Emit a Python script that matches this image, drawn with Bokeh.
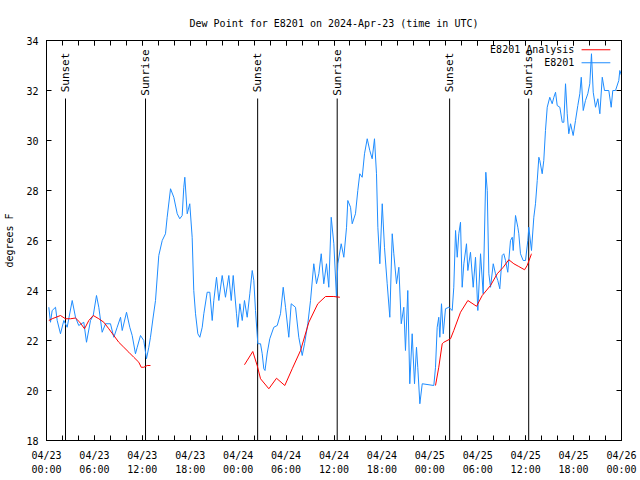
from math import pi
from bokeh.plotting import figure
from bokeh.models import FixedTicker, LinearAxis, Range1d
from bokeh.core.properties import value
from bokeh.embed import file_html
from bokeh.resources import INLINE

FONT = "DejaVu Sans Mono"
BLUE = "#1E8CFF"
RED = "#FF0000"

TITLE = "Dew Point for E8201 on 2024-Apr-23 (time in UTC)"
Y_LABEL = "degrees F"

# hours since 2024-04-23 00:00 UTC
X_TICKS = [0, 6, 12, 18, 24, 30, 36, 42, 48, 54, 60, 66, 72]
X_TICK_LABELS = ["04/23\n00:00", "04/23\n06:00", "04/23\n12:00", "04/23\n18:00",
                 "04/24\n00:00", "04/24\n06:00", "04/24\n12:00", "04/24\n18:00",
                 "04/25\n00:00", "04/25\n06:00", "04/25\n12:00", "04/25\n18:00",
                 "04/26\n00:00"]
X_MINOR = list(range(0, 73, 2))
Y_TICKS = [18, 20, 22, 24, 26, 28, 30, 32, 34]

EVENT_HOURS = [2.38, 12.40, 26.44, 36.40, 50.48, 60.38]
EVENT_NAMES = ["Sunset", "Sunrise", "Sunset", "Sunrise", "Sunset", "Sunrise"]

OBS_HOURS = [0.29, 0.50, 0.71, 1.13, 1.34, 1.75, 2.17, 2.59, 3.22, 3.63, 4.04, 4.67, 5.01,
             5.51, 5.85, 6.26, 6.55, 6.97, 7.39, 8.01, 8.43, 8.85, 9.27, 9.48, 10.02, 10.43,
             10.73, 11.14, 11.36, 11.77, 12.18, 12.52, 12.81, 13.02, 13.34, 13.65, 14.06,
             14.49, 14.90, 15.11, 15.53, 15.94, 16.37, 16.69, 16.99, 17.19, 17.32, 17.62,
             17.94, 18.24, 18.44, 18.66, 18.95, 19.20, 19.50, 19.70, 20.12, 20.45, 20.75,
             20.95, 21.29, 21.58, 22.00, 22.41, 22.83, 23.13, 23.38, 23.79, 23.95, 24.21,
             24.51, 24.79, 25.13, 25.46, 25.76, 25.96, 26.17, 26.46, 26.80, 27.01, 27.21,
             27.36, 27.64, 27.96, 28.46, 28.89, 29.30, 29.64, 29.93, 30.34, 30.64, 31.18,
             31.59, 32.02, 32.31, 32.72, 33.06, 33.47, 33.81, 34.10, 34.40, 34.72, 35.06,
             35.35, 35.65, 35.98, 36.31, 36.48, 36.90, 37.23, 37.57, 37.73, 38.07, 38.28,
             38.69, 38.98, 39.23, 39.53, 39.82, 40.16, 40.48, 40.78, 41.07, 41.32, 41.49,
             41.74, 42.04, 42.32, 42.66, 42.99, 43.29, 43.49, 43.83, 44.12, 44.42, 44.74,
             44.95, 45.24, 45.49, 45.79, 46.08, 46.33, 46.49, 46.75, 47.05, 48.50, 48.71,
             48.92, 49.12, 49.25, 49.46, 49.68, 49.96, 50.38, 50.80, 51.00, 51.22, 51.43,
             51.63, 51.84, 52.05, 52.26, 52.59, 52.76, 53.09, 53.43, 53.72, 54.01, 54.35,
             54.68, 55.01, 55.19, 55.39, 55.60, 55.94, 56.22, 56.51, 56.76, 57.06, 57.26,
             57.48, 57.76, 58.10, 58.32, 58.44, 58.73, 59.02, 59.14, 59.35, 59.69, 59.98,
             60.27, 60.39, 60.73, 61.02, 61.23, 61.45, 61.65, 61.77, 62.07, 62.27, 62.48,
             62.70, 63.02, 63.32, 63.53, 63.74, 63.95, 64.28, 64.58, 64.78, 64.99, 65.20,
             65.40, 65.62, 65.95, 66.24, 66.53, 66.78, 66.96, 67.21, 67.49, 67.78, 68.03,
             68.24, 68.46, 68.75, 69.04, 69.29, 69.59, 69.87, 70.41, 70.71, 70.91, 71.25,
             71.66, 71.79, 72.00]
OBS_DEWPT = [23.33, 22.73, 23.20, 23.33, 22.80, 22.27, 22.80, 22.53, 23.60, 22.93, 22.60,
             22.73, 21.93, 22.80, 23.00, 23.80, 23.33, 22.33, 22.67, 22.67, 22.13, 22.53,
             22.93, 22.40, 23.13, 22.53, 22.20, 21.47, 21.73, 22.20, 22.00, 21.27, 21.73,
             22.13, 22.90, 23.60, 25.40, 26.00, 26.27, 26.93, 28.07, 27.73, 27.07, 26.87,
             27.00, 28.13, 28.53, 27.07, 27.47, 26.13, 24.00, 23.07, 22.27, 22.13, 22.53,
             23.07, 23.93, 23.93, 22.80, 23.60, 24.53, 23.60, 24.60, 23.73, 24.60, 23.60,
             24.60, 23.07, 22.53, 23.47, 22.80, 23.60, 22.93, 23.87, 24.80, 24.40, 23.20,
             21.87, 21.87, 21.47, 20.87, 20.80, 21.50, 22.07, 22.53, 22.60, 23.07, 24.13,
             23.33, 22.13, 23.47, 23.33, 22.13, 21.40, 21.87, 22.67, 23.60, 25.07, 24.27,
             24.67, 25.47, 24.27, 25.07, 24.13, 26.93, 25.87, 23.73, 25.07, 25.87, 25.33,
             26.53, 27.60, 27.33, 26.67, 27.07, 28.00, 28.67, 28.53, 29.47, 30.07, 29.60,
             29.27, 30.07, 28.67, 26.53, 25.07, 27.47, 25.73, 24.27, 22.93, 26.27, 25.47,
             24.27, 24.93, 22.67, 23.33, 21.60, 24.00, 20.27, 22.27, 20.27, 21.73, 20.93,
             19.47, 20.27, 20.20, 20.93, 22.53, 22.93, 22.13, 23.47, 22.27, 23.27, 23.33,
             23.20, 24.13, 26.40, 25.33, 26.27, 26.73, 24.13, 25.07, 25.87, 24.80, 25.53,
             24.13, 25.33, 23.20, 25.47, 23.87, 28.73, 28.00, 24.67, 24.13, 25.07, 24.67,
             24.40, 24.07, 25.40, 25.47, 25.20, 24.73, 26.00, 26.13, 25.60, 27.00, 26.53,
             26.27, 25.47, 25.20, 25.20, 26.00, 26.53, 25.60, 26.93, 27.47, 28.40, 29.33,
             29.20, 28.67, 29.20, 30.40, 31.33, 31.73, 31.47, 31.73, 31.93, 31.40, 31.33,
             30.73, 30.73, 32.27, 31.07, 30.27, 30.67, 30.20, 30.80, 31.40, 31.87, 32.53,
             31.20, 31.60, 31.87, 32.27, 33.47, 31.93, 31.33, 31.67, 31.07, 32.53, 32.00,
             32.00, 31.33, 32.00, 32.00, 32.40, 32.80, 32.60]

NAN = float("nan")
ANA_HOURS = [0.29, 0.71, 1.75, 2.38, 3.01, 3.63, 4.17, 4.76, 5.30, 5.85, 6.55, 7.18, 7.80,
             8.43, 9.05, 9.68, 10.31, 10.93, 11.56, 11.86, 12.18, 12.61, 13.02, NAN,
             24.79, 25.83, 26.38, 26.80, 27.84, 28.80, 29.84, 30.77, 31.81, 32.85, 33.97,
             34.94, 35.98, 36.73, NAN,
             48.71, 49.12, 49.55, 49.75, 50.59, 51.00, 51.84, 52.76, 53.85, 54.56, 55.60,
             56.44, 57.19, 57.89, 58.52, 59.14, 59.86, 60.19, 60.70, 60.73]
ANA_DEWPT = [22.80, 22.87, 23.00, 22.87, 22.87, 22.90, 22.73, 22.47, 22.80, 23.00, 22.87,
             22.73, 22.47, 22.20, 21.93, 21.73, 21.53, 21.33, 21.13, 20.93, 20.93, 21.00,
             21.00, NAN,
             21.03, 21.56, 21.00, 20.47, 20.07, 20.49, 20.20, 20.87, 21.60, 22.73, 23.47,
             23.76, 23.76, 23.73, NAN,
             20.20, 20.93, 21.87, 21.93, 22.07, 22.40, 23.13, 23.60, 23.37, 23.80, 24.20,
             24.67, 24.93, 25.23, 25.07, 24.96, 24.83, 25.00, 25.44, 25.47]

LEGEND_LABELS = ["E8201 Analysis", "E8201"]
LEGEND_COLORS = [RED, BLUE]

p = figure(width=640, height=480, output_backend="svg", toolbar_location=None,
           x_range=Range1d(0, 72), y_range=Range1d(18, 34),
           min_border_left=46, min_border_right=19, min_border_top=40, min_border_bottom=40,
           title=TITLE)
p.grid.visible = False
p.outline_line_color = "black"
p.outline_line_width = 1
p.background_fill_color = "white"
p.border_fill_color = "white"

p.title.text_font = FONT
p.title.text_font_size = "10px"
p.title.text_font_style = "normal"
p.title.align = "center"
p.title.text_color = "black"
p.title.standoff = 24


def style_axis(ax, labels=True):
    ax.axis_line_color = "black"
    ax.major_tick_in = 5
    ax.major_tick_out = 0
    ax.minor_tick_in = 5
    ax.minor_tick_out = 0
    ax.major_tick_line_color = "black"
    ax.minor_tick_line_color = "black"
    ax.major_label_text_font = FONT
    if labels:
        ax.major_label_text_font_size = "10px"
        ax.major_label_text_color = "black"
    else:
        ax.major_label_text_font_size = "1px"
        ax.major_label_text_color = None
        ax.major_label_standoff = 0


xt = FixedTicker(ticks=X_TICKS, minor_ticks=X_MINOR)
yt = FixedTicker(ticks=Y_TICKS, minor_ticks=[])

xa = p.xaxis[0]
xa.ticker = xt
xa.major_label_overrides = {t: s for t, s in zip(X_TICKS, X_TICK_LABELS)}
style_axis(xa)
xa.major_label_standoff = 9
xa.major_label_text_line_height = 1.3

ya = p.yaxis[0]
ya.ticker = yt
style_axis(ya)
ya.minor_tick_in = 0
ya.major_label_standoff = 8
ya.axis_label = Y_LABEL
ya.axis_label_text_font = FONT
ya.axis_label_text_font_size = "10px"
ya.axis_label_text_font_style = "normal"
ya.axis_label_text_color = "black"
ya.axis_label_standoff = 8

top = LinearAxis(ticker=FixedTicker(ticks=X_TICKS, minor_ticks=X_MINOR))
style_axis(top, labels=False)
p.add_layout(top, "above")
right = LinearAxis(ticker=FixedTicker(ticks=Y_TICKS, minor_ticks=[]))
style_axis(right, labels=False)
right.minor_tick_in = 0
p.add_layout(right, "right")

# sunrise / sunset markers
p.segment(x0=EVENT_HOURS, y0=[18] * len(EVENT_HOURS), x1=EVENT_HOURS,
          y1=[31.68] * len(EVENT_HOURS), line_color="black", line_width=1)
p.text(x=EVENT_HOURS, y=[32.72] * len(EVENT_HOURS), text=EVENT_NAMES, angle=pi / 2,
       text_align="center", text_baseline="middle", text_font=value(FONT),
       text_font_size="11px", text_color="black")

# data
p.line(OBS_HOURS, OBS_DEWPT, line_color=BLUE, line_width=1)
p.line(ANA_HOURS, ANA_DEWPT, line_color=RED, line_width=1)

# legend (gnuplot style: text then sample)
leg_y = [33.63, 33.11]
p.text(x=[66.1, 66.1], y=leg_y, text=LEGEND_LABELS, text_align="right",
       text_baseline="middle", text_font=value(FONT), text_font_size="10px",
       text_color="black")
p.segment(x0=[67.0, 67.0], y0=leg_y, x1=[70.6, 70.6], y1=leg_y,
          line_color=LEGEND_COLORS, line_width=1)

open("out.html", "w").write(file_html(p, INLINE))
